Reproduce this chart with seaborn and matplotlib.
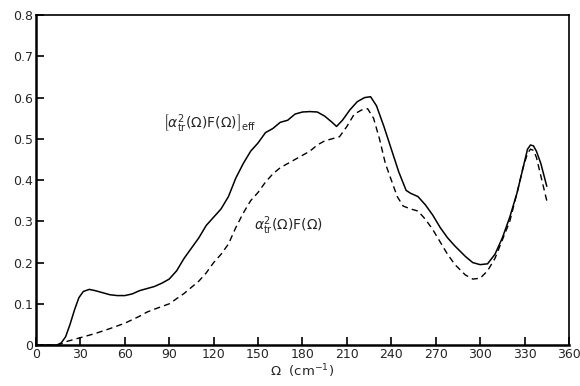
import pandas as pd
import matplotlib
matplotlib.use("Agg")
import matplotlib.pyplot as plt
import seaborn as sns

sns.set_style("white")
plt.rcParams['font.family'] = ['DejaVu Sans']
plt.rcParams['mathtext.fontset'] = 'dejavusans'

# Solid curve: effective transport function
omega_eff = [0, 14, 17, 20, 23, 26, 29, 32, 36, 40, 45, 50, 55, 60, 65, 70, 75, 80,
             85, 90, 95, 100, 105, 110, 115, 120, 125, 130, 135, 140, 145, 150, 155,
             160, 165, 170, 175, 180, 185, 190, 195, 200, 203, 207, 212, 217, 222,
             226, 230, 235, 240, 245, 250, 253, 258, 263, 268, 273, 278, 283, 290,
             295, 300, 305, 310, 315, 320, 325, 329, 332, 334, 336, 338, 341, 345]
alpha_eff = [0, 0, 0.005, 0.02, 0.05, 0.085, 0.115, 0.13, 0.135, 0.132, 0.127, 0.122,
             0.12, 0.12, 0.124, 0.132, 0.137, 0.142, 0.15, 0.16, 0.18, 0.21, 0.235,
             0.26, 0.29, 0.31, 0.33, 0.36, 0.405, 0.44, 0.47, 0.49, 0.515, 0.525, 0.54,
             0.545, 0.56, 0.565, 0.566, 0.565, 0.555, 0.54, 0.53, 0.545, 0.57, 0.59,
             0.6, 0.602, 0.58, 0.53, 0.475, 0.42, 0.375, 0.368, 0.36, 0.34, 0.315,
             0.285, 0.26, 0.24, 0.215, 0.2, 0.195, 0.197, 0.22, 0.26, 0.31, 0.37,
             0.43, 0.475, 0.485, 0.483, 0.47, 0.44, 0.385]

# Dashed curve: plain transport function
omega_tr = [0, 15, 20, 25, 30, 40, 50, 60, 70, 75, 80, 90, 100, 105, 110, 115, 120,
            125, 130, 135, 140, 145, 150, 155, 160, 165, 170, 175, 180, 185, 190, 195,
            200, 205, 210, 215, 220, 224, 228, 232, 236, 240, 244, 248, 253, 258, 263,
            268, 273, 278, 283, 290, 295, 300, 305, 310, 315, 320, 325, 329, 332, 334,
            336, 338, 341, 345]
alpha_tr = [0, 0, 0.008, 0.013, 0.018, 0.028, 0.04, 0.053, 0.07, 0.08, 0.087, 0.1,
            0.125, 0.14, 0.155, 0.175, 0.2, 0.22, 0.245, 0.285, 0.32, 0.35, 0.37,
            0.395, 0.415, 0.43, 0.44, 0.45, 0.46, 0.47, 0.485, 0.495, 0.5, 0.505,
            0.53, 0.56, 0.57, 0.573, 0.55, 0.5, 0.44, 0.4, 0.36, 0.337, 0.33, 0.325,
            0.305, 0.28, 0.25, 0.22, 0.195, 0.17, 0.16, 0.162, 0.18, 0.21, 0.255, 0.3,
            0.37, 0.43, 0.465, 0.475, 0.472, 0.455, 0.41, 0.35]

x_ticks = list(range(0, 361, 30))
y_ticks = [0, 0.1, 0.2, 0.3, 0.4, 0.5, 0.6, 0.7, 0.8]
y_ticklabels = ["0", "0.1", "0.2", "0.3", "0.4", "0.5", "0.6", "0.7", "0.8"]

df_eff = pd.DataFrame({"omega": omega_eff, "alpha": alpha_eff})
df_tr = pd.DataFrame({"omega": omega_tr, "alpha": alpha_tr})

fig = plt.figure(figsize=(5.8, 3.86), dpi=100)
ax = fig.add_axes([0.062, 0.106, 0.919, 0.855])

sns.lineplot(data=df_eff, x="omega", y="alpha", ax=ax, color="black", linewidth=1.1)
sns.lineplot(data=df_tr, x="omega", y="alpha", ax=ax, color="black", linewidth=1.0)
ax.lines[-1].set_dashes((4.5, 3))

ax.set_xlim(0, 360)
ax.set_ylim(0, 0.8)
ax.set_xticks(x_ticks)
ax.set_yticks(y_ticks)
ax.set_yticklabels(y_ticklabels)
ax.tick_params(direction="in", length=6, width=1.2, labelsize=9, color="black",
               top=False, right=False, bottom=True, left=True, pad=2)
for side in ["left", "bottom"]:
    ax.spines[side].set_linewidth(1.8)
for side in ["top", "right"]:
    ax.spines[side].set_linewidth(1.2)
for sp in ax.spines.values():
    sp.set_color("black")

ax.set_xlabel(r"$\Omega$  (cm$^{-1}$)", fontsize=9.5, labelpad=1)
ax.set_ylabel("")

ax.text(86, 0.535, r"$\left[\alpha^2_{\rm tr}(\Omega){\rm F}(\Omega)\right]_{\rm eff}$",
        fontsize=10, va="center", ha="left")
ax.text(147, 0.29, r"$\alpha^2_{\rm tr}(\Omega){\rm F}(\Omega)$",
        fontsize=10, va="center", ha="left")

fig.savefig("out.png", dpi=100)
